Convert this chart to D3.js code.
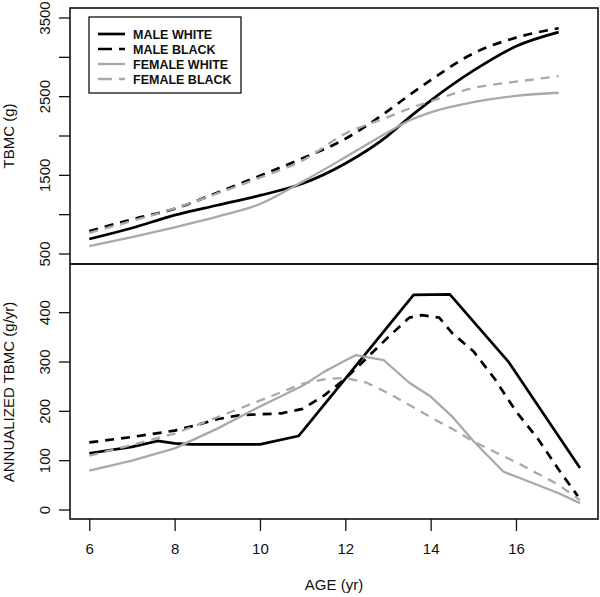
<!DOCTYPE html>
<html>
<head>
<meta charset="utf-8">
<script src="https://cdn.jsdelivr.net/npm/d3@7"></script>
<style>
body{margin:0;background:#fff;}
text{font-family:Arial,"Liberation Sans",sans-serif;}
</style>
</head>
<body>
<svg id="c" width="600" height="597"></svg>
<script>
// ---- data ----
const seriesNames = ["MALE WHITE","MALE BLACK","FEMALE WHITE","FEMALE BLACK"];
const topAges = [6,7,8,9,10,11,12,13,13.5,14,15,16,17];
const topMaleWhite   = [690,830,994,1120,1245,1395,1650,2005,2237,2450,2830,3140,3320];
const topMaleBlack   = [790,940,1075,1280,1495,1716,1964,2320,2520,2710,3050,3250,3370];
const topFemaleWhite = [600,715,840,975,1135,1420,1730,2048,2196,2300,2430,2510,2550];
const topFemaleBlack = [770,920,1080,1270,1470,1690,2030,2240,2350,2440,2610,2690,2760];

const botMaleWhiteAges = [6,7,7.6,8,8.4,10.0,10.9,11.0,13.6,14.45,15.82,17.5];
const botMaleWhite     = [115,128,140,135,133,133,150,160,436,437,301,85];
const botMaleBlackAges = [6,7,8,8.5,9,9.5,10,10.5,11,11.5,12,12.5,13,13.5,13.8,14.2,14.5,15,15.5,16,16.5,17,17.45];
const botMaleBlack     = [137,148,161,172,184,192,194,196,205,232,266,308,350,390,395,390,359,322,266,200,146,82,28];
const botFemaleWhiteAges = [6,7,8,9,10,11,11.5,12,12.25,12.9,13.5,14,14.5,15,15.7,16,17,17.5];
const botFemaleWhite     = [80,100,125,165,210,252,280,303,314,304,258,230,190,140,78,68,34,14];
const botFemaleBlackAges = [6,7,8,9,10,11,11.5,12,12.5,13,13.5,14,14.5,15,16,17,17.5];
const botFemaleBlack     = [110,132,155,188,222,256,265,268,258,237,213,188,165,139,97,51,20];

const xTicks = [6,8,10,12,14,16];
const topYTicks = [500,1000,1500,2000,2500,3000,3500];
const topYLabels = [500,1500,2500,3500];
const botYTicks = [0,100,200,300,400];

// ---- styles ----
const GRAY = "#a9a9a9";
const styles = [
  {color:"#000", dash:null, w:2.7},
  {color:"#000", dash:"9,7", w:2.7},
  {color:GRAY, dash:null, w:2.3},
  {color:GRAY, dash:"9,7", w:2.3}
];

const svg = d3.select("#c");
const L = 70, R = 598;
const x = d3.scaleLinear().domain([5.548,17.922]).range([L,R]);
const yTop = d3.scaleLinear().domain([373,3627]).range([264,8]);
const yBot = d3.scaleLinear().domain([-18.2,498.7]).range([519,264]);

function drawLines(g, y, list, curve){
  list.forEach((s,i)=>{
    const pts = s.ages.map((a,j)=>[a,s.vals[j]]);
    g.append("path").datum(pts)
      .attr("fill","none")
      .attr("stroke",styles[i].color)
      .attr("stroke-width",styles[i].w)
      .attr("stroke-dasharray",styles[i].dash)
      .attr("stroke-linejoin","round")
      .attr("d",d3.line().x(d=>x(d[0])).y(d=>y(d[1])).curve(curve));
  });
}

// top panel lines
drawLines(svg.append("g"), yTop, [
  {ages:topAges, vals:topMaleWhite},
  {ages:topAges, vals:topMaleBlack},
  {ages:topAges, vals:topFemaleWhite},
  {ages:topAges, vals:topFemaleBlack}
], d3.curveMonotoneX);

// bottom panel lines
drawLines(svg.append("g"), yBot, [
  {ages:botMaleWhiteAges, vals:botMaleWhite},
  {ages:botMaleBlackAges, vals:botMaleBlack},
  {ages:botFemaleWhiteAges, vals:botFemaleWhite},
  {ages:botFemaleBlackAges, vals:botFemaleBlack}
], d3.curveLinear);

// frames
svg.append("rect").attr("x",L).attr("y",8).attr("width",R-L).attr("height",256)
  .attr("fill","none").attr("stroke","#111").attr("stroke-width",1.6);
svg.append("rect").attr("x",L).attr("y",264).attr("width",R-L).attr("height",255)
  .attr("fill","none").attr("stroke","#111").attr("stroke-width",1.6);

// top y axis
const gty = svg.append("g");
gty.selectAll("line").data(topYTicks).join("line")
  .attr("x1",L-11).attr("x2",L).attr("y1",d=>yTop(d)).attr("y2",d=>yTop(d))
  .attr("stroke","#111").attr("stroke-width",1.3);
gty.selectAll("text").data(topYLabels).join("text")
  .attr("transform",d=>`translate(50,${yTop(d)}) rotate(-90)`)
  .attr("text-anchor","middle").attr("font-size",15).attr("fill","#111")
  .text(d=>d);

// bottom y axis
const gby = svg.append("g");
gby.selectAll("line").data(botYTicks).join("line")
  .attr("x1",L-11).attr("x2",L).attr("y1",d=>yBot(d)).attr("y2",d=>yBot(d))
  .attr("stroke","#111").attr("stroke-width",1.3);
gby.selectAll("text").data(botYTicks).join("text")
  .attr("transform",d=>`translate(50,${yBot(d)}) rotate(-90)`)
  .attr("text-anchor","middle").attr("font-size",15).attr("fill","#111")
  .text(d=>d);

// x axis
const gx = svg.append("g").attr("transform","translate(0,519)")
  .call(d3.axisBottom(x).tickValues(xTicks).tickSize(12).tickPadding(12).tickFormat(d3.format("d")));
gx.select(".domain").remove();
gx.selectAll(".tick line").attr("stroke","#111").attr("stroke-width",1.3);
gx.selectAll(".tick text").attr("font-size",15).attr("fill","#111")
  .attr("font-family","Arial, 'Liberation Sans', sans-serif");

// axis titles
svg.append("text").attr("x",(L+R)/2).attr("y",590).attr("text-anchor","middle")
  .attr("font-size",15).attr("fill","#111").text("AGE (yr)");
svg.append("text").attr("transform",`translate(14,136) rotate(-90)`)
  .attr("text-anchor","middle").attr("font-size",15).attr("fill","#111").text("TBMC (g)");
svg.append("text").attr("transform",`translate(14,392) rotate(-90)`)
  .attr("text-anchor","middle").attr("font-size",15).attr("fill","#111").text("ANNUALIZED TBMC (g/yr)");

// legend
const lg = svg.append("g");
lg.append("rect").attr("x",89).attr("y",17).attr("width",152).attr("height",76)
  .attr("fill","#fff").attr("stroke","#111").attr("stroke-width",1.3);
seriesNames.forEach((name,i)=>{
  const yy = 34 + i*15;
  lg.append("line").attr("x1",98).attr("x2",125).attr("y1",yy).attr("y2",yy)
    .attr("stroke",styles[i].color).attr("stroke-width",styles[i].w)
    .attr("stroke-dasharray",styles[i].dash ? "14,7" : null);
  lg.append("text").attr("x",133).attr("y",yy+4.5).attr("font-size",12.5)
    .attr("font-weight","bold").attr("fill","#111").text(name);
});
</script>
</body>
</html>
